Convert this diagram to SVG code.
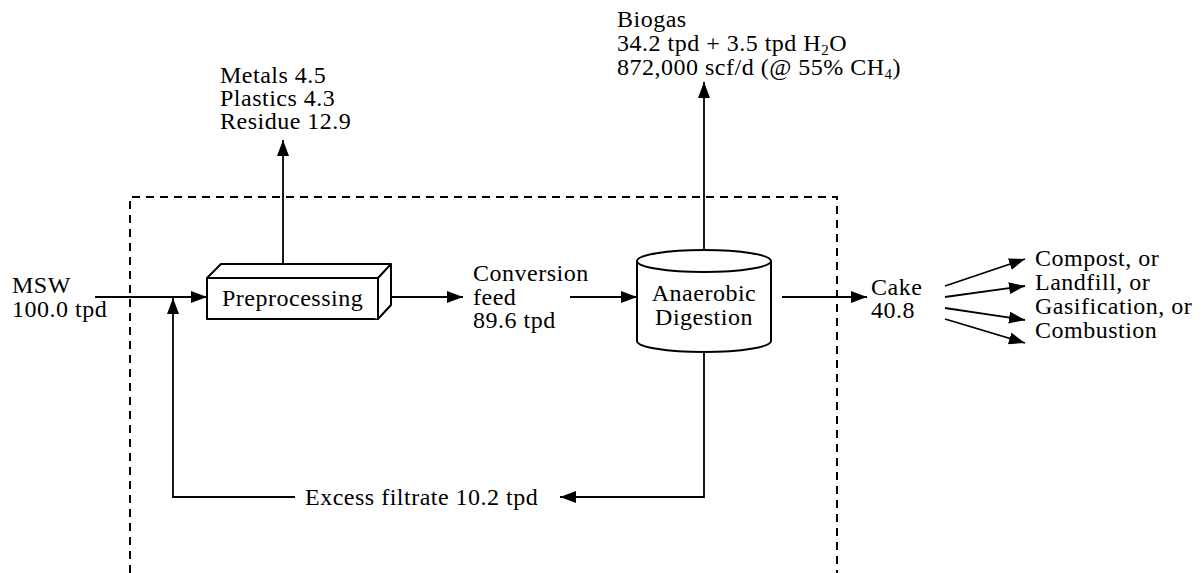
<svg xmlns="http://www.w3.org/2000/svg" width="1203" height="573" viewBox="0 0 1203 573">
<style>
.t{font-family:"Liberation Serif","Tinos","Times New Roman","DejaVu Serif",serif;font-size:24px;letter-spacing:0.5px;fill:#000}
.ln{fill:none;stroke:#000;stroke-width:1.8}
.dash{fill:none;stroke:#000;stroke-width:2;stroke-dasharray:8 6}
.shape{fill:#fff;stroke:#000;stroke-width:2;stroke-linejoin:round}
.sub{font-size:15px}
</style>
<defs>
<marker id="ah" viewBox="0 0 16 12" refX="16" refY="6" markerWidth="16" markerHeight="12" markerUnits="userSpaceOnUse" orient="auto"><path d="M0,0 L16,6 L0,12 z" fill="#000"/></marker>
</defs>
<rect width="1203" height="573" fill="#fff"/>
<g id="boundary"><path class="dash" d="M130,573 V197 H837 V573"/></g>
<g id="connectors">
<path class="ln" d="M95,297 H207" marker-end="url(#ah)"/>
<path class="ln" d="M295,497 H173 V298" marker-end="url(#ah)"/>
<path class="ln" d="M283,264 V140" marker-end="url(#ah)"/>
<path class="ln" d="M392,297 H463" marker-end="url(#ah)"/>
<path class="ln" d="M570,297 H637" marker-end="url(#ah)"/>
<path class="ln" d="M704,252 V82" marker-end="url(#ah)"/>
<path class="ln" d="M782,297 H867" marker-end="url(#ah)"/>
<path class="ln" d="M945,286 L1025,259" marker-end="url(#ah)"/>
<path class="ln" d="M945,297 L1025,286" marker-end="url(#ah)"/>
<path class="ln" d="M945,308 L1025,320" marker-end="url(#ah)"/>
<path class="ln" d="M945,319 L1025,343" marker-end="url(#ah)"/>
<path class="ln" d="M704,352 V497 H560" marker-end="url(#ah)"/>
</g>
<g id="preprocessing">
<path class="shape" d="M207,278 L221,264 H391 V305 L378,319 H207 Z"/>
<path class="shape" d="M207,278 H378 V319 M378,278 L391,264"/>
<text class="t" x="222" y="306">Preprocessing</text>
</g>
<g id="digester">
<path class="shape" d="M637,261 A67,11 0 0 1 771,261 V341 A67,11 0 0 1 637,341 Z"/>
<path class="shape" d="M637,261 A67,11 0 0 0 771,261"/>
<text class="t" x="704" y="301" text-anchor="middle">Anaerobic</text>
<text class="t" x="704" y="325" text-anchor="middle">Digestion</text>
</g>
<g id="msw">
<text class="t" x="12" y="293">MSW</text>
<text class="t" x="12" y="317">100.0 tpd</text>
</g>
<g id="separated">
<text class="t" x="220" y="83">Metals 4.5</text>
<text class="t" x="220" y="106">Plastics 4.3</text>
<text class="t" x="220" y="129">Residue 12.9</text>
</g>
<g id="conversion-feed">
<text class="t" x="473" y="281">Conversion</text>
<text class="t" x="473" y="305">feed</text>
<text class="t" x="473" y="328">89.6 tpd</text>
</g>
<g id="biogas">
<text class="t" x="617" y="27">Biogas</text>
<text class="t" x="617" y="51">34.2 tpd + 3.5 tpd H<tspan class="sub" dy="4">2</tspan><tspan dy="-4">O</tspan></text>
<text class="t" x="617" y="75">872,000 scf/d (@ 55% CH<tspan class="sub" dy="4">4</tspan><tspan dy="-4">)</tspan></text>
</g>
<g id="cake">
<text class="t" x="871" y="295">Cake</text>
<text class="t" x="871" y="318">40.8</text>
</g>
<g id="uses">
<text class="t" x="1035" y="266">Compost, or</text>
<text class="t" x="1035" y="290">Landfill, or</text>
<text class="t" x="1035" y="314">Gasification, or</text>
<text class="t" x="1035" y="338">Combustion</text>
</g>
<g id="filtrate">
<text class="t" x="305" y="505">Excess filtrate 10.2 tpd</text>
</g>
</svg>
